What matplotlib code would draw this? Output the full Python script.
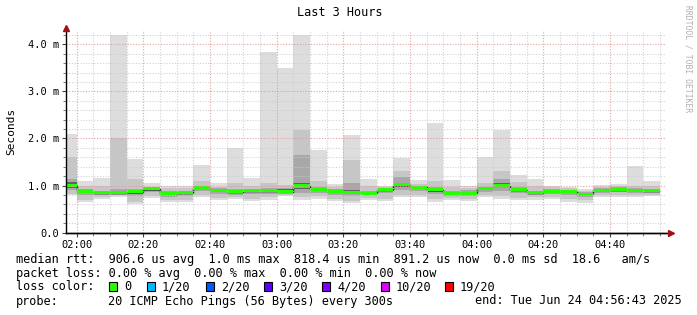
import numpy as np
import pandas as pd
import matplotlib
matplotlib.use("Agg")
import matplotlib.pyplot as plt
import matplotlib.dates as mdates
from matplotlib.patches import Rectangle

# 5-minute slots, values in ms
slots = pd.date_range("2025-06-24 01:55", periods=36, freq="5min")
end_time = pd.Timestamp("2025-06-24 04:56:43")

median = [1.01, 0.885, 0.85, 0.85, 0.87, 0.93, 0.82, 0.85, 0.95, 0.90, 0.87, 0.89,
          0.89, 0.87, 0.99, 0.92, 0.885, 0.86, 0.84, 0.91, 1.02, 0.96, 0.91, 0.84,
          0.84, 0.94, 0.99, 0.915, 0.85, 0.88, 0.88, 0.815, 0.90, 0.915, 0.90, 0.89]
ping_max = [2.10, 1.09, 1.16, 4.20, 1.56, 1.05, 1.00, 1.00, 1.43, 1.05, 1.80, 1.16,
            3.83, 3.50, 4.20, 1.75, 1.04, 2.08, 1.13, 1.00, 1.59, 1.11, 2.33, 1.11,
            1.00, 1.60, 2.17, 1.22, 1.13, 1.00, 0.98, 0.93, 1.02, 1.04, 1.41, 1.09]
ping_min = [0.79, 0.65, 0.72, 0.76, 0.60, 0.74, 0.65, 0.65, 0.76, 0.69, 0.72, 0.67,
            0.70, 0.77, 0.70, 0.72, 0.67, 0.62, 0.69, 0.67, 0.76, 0.75, 0.65, 0.69,
            0.67, 0.76, 0.72, 0.69, 0.70, 0.72, 0.65, 0.63, 0.75, 0.76, 0.76, 0.77]
hi2 = [1.60, 1.00, 1.00, 2.00, 1.15, 0.98, 0.95, 0.95, 1.10, 0.98, 1.05, 1.00,
       1.05, 1.02, 2.18, 1.10, 0.97, 1.54, 1.00, 0.97, 1.32, 1.03, 1.10, 0.98,
       0.95, 1.05, 1.32, 1.08, 1.00, 0.96, 0.94, 0.89, 0.98, 1.00, 1.00, 1.00]
lo2 = [0.83, 0.70, 0.76, 0.79, 0.66, 0.78, 0.70, 0.70, 0.80, 0.74, 0.76, 0.72,
       0.75, 0.80, 0.75, 0.77, 0.72, 0.68, 0.74, 0.72, 0.80, 0.79, 0.71, 0.74,
       0.72, 0.80, 0.77, 0.73, 0.75, 0.76, 0.71, 0.69, 0.79, 0.80, 0.80, 0.80]
hi3 = [1.15, 0.93, 0.89, 0.92, 0.93, 0.96, 0.88, 0.89, 1.00, 0.94, 0.92, 0.93,
       0.95, 0.95, 1.65, 0.97, 0.92, 1.05, 0.89, 0.94, 1.18, 0.99, 0.96, 0.89,
       0.90, 0.97, 1.15, 0.96, 0.89, 0.92, 0.91, 0.86, 0.95, 0.97, 0.94, 0.93]
lo3 = [0.90, 0.80, 0.80, 0.80, 0.78, 0.86, 0.76, 0.78, 0.88, 0.83, 0.80, 0.82,
       0.82, 0.85, 0.85, 0.84, 0.81, 0.78, 0.79, 0.85, 0.90, 0.88, 0.82, 0.78,
       0.78, 0.87, 0.88, 0.84, 0.79, 0.82, 0.80, 0.76, 0.84, 0.86, 0.85, 0.84]
hi4 = [1.08, 0.91, 0.87, 0.88, 0.90, 0.95, 0.86, 0.87, 0.99, 0.92, 0.90, 0.91,
       0.93, 0.92, 1.05, 0.94, 0.90, 0.90, 0.86, 0.93, 1.06, 0.98, 0.93, 0.86,
       0.87, 0.95, 1.05, 0.94, 0.87, 0.90, 0.90, 0.84, 0.93, 0.95, 0.93, 0.91]
lo4 = [0.95, 0.85, 0.83, 0.83, 0.83, 0.89, 0.79, 0.82, 0.92, 0.87, 0.84, 0.86,
       0.86, 0.88, 0.93, 0.88, 0.85, 0.82, 0.82, 0.88, 0.97, 0.93, 0.87, 0.81,
       0.81, 0.91, 0.94, 0.88, 0.82, 0.85, 0.84, 0.79, 0.87, 0.89, 0.87, 0.86]

loss_labels = ["0", "1/20", "2/20", "3/20", "4/20", "10/20", "19/20"]
loss_colors = ["#26ff00", "#00b8ff", "#0059ff", "#5e00ff", "#7e00ff", "#dd00ff", "#ff0000"]

W, H = 697, 315
mono = "DejaVu Sans Mono"
fig = plt.figure(figsize=(W / 100, H / 100), dpi=100)
fig.patch.set_facecolor("white")

x0, x1, ytop, ybot = 65.8, 665.7, 30.0, 232.7
ax = fig.add_axes([x0 / W, 1 - ybot / H, (x1 - x0) / W, (ybot - ytop) / H])

xs = mdates.date2num(slots)
bw = 5 / 1440
med = np.array(median)

# smoke layers, outer to inner
layers = [(ping_min, ping_max, "#dddddd"), (lo2, hi2, "#c6c6c6"),
          (lo3, hi3, "#a8a8a8"), (lo4, hi4, "#626262")]
for lo, hi, col in layers:
    lo, hi = np.array(lo), np.array(hi)
    ax.bar(xs, hi - lo, bottom=lo, width=bw, align="edge", color=col,
           linewidth=0, zorder=1)

# median: dark step line + green loss band
edges = np.append(xs, xs[-1] + bw)
ax.stairs(med, edges, baseline=None, color="#202020", lw=1.0, zorder=3)
sw = 0.034
ax.bar(xs, 2 * sw, bottom=med - sw, width=bw, align="edge",
       color=loss_colors[0], linewidth=0, zorder=4)

t0 = mdates.date2num(end_time - pd.Timedelta(hours=3))
t1 = mdates.date2num(end_time)
ax.set_xlim(t0, t1)
ymax = (ybot - ytop) / 47.1
ax.set_ylim(0, ymax)

# grid
grid_t = pd.date_range("2025-06-24 02:00", "2025-06-24 04:55", freq="5min")
for t in grid_t:
    major = t.minute % 20 == 0
    ax.axvline(mdates.date2num(t), color="#e09a9a" if major else "#cccccc",
               lw=0.8, dashes=(1, 1.5), zorder=5, alpha=0.9)
for v in np.arange(0.2, ymax, 0.2):
    major = abs(v - round(v)) < 1e-6
    ax.axhline(v, color="#e09a9a" if major else "#cccccc", lw=0.8,
               dashes=(1, 1.5), zorder=5, alpha=0.9)

major_t = pd.date_range("2025-06-24 02:00", "2025-06-24 04:40", freq="20min")
ax.set_xticks(mdates.date2num(major_t))
ax.set_xticklabels([t.strftime("%H:%M") for t in major_t], fontfamily=mono, fontsize=7.5)
ax.set_xticks(mdates.date2num(grid_t), minor=True)
ax.set_yticks([0, 1, 2, 3, 4])
ax.set_yticklabels(["0.0", "1.0 m", "2.0 m", "3.0 m", "4.0 m"], fontfamily=mono, fontsize=7.5)
ax.set_yticks(np.arange(0, ymax, 0.2), minor=True)
ax.tick_params(axis="both", which="major", length=3, width=0.8, color="#444444", pad=2)
ax.tick_params(axis="both", which="minor", length=2, width=0.6, color="#666666")

for s in ["top", "right"]:
    ax.spines[s].set_visible(False)
for s in ["left", "bottom"]:
    ax.spines[s].set_color("black")
    ax.spines[s].set_linewidth(1.0)
    ax.spines[s].set_zorder(6)

# axis arrows
ax.plot([t0], [ymax + 0.05], marker="^", color="#a01010", ms=4, clip_on=False, zorder=7)
ax.plot([t0, t1 + 1.3 / 1440], [0, 0], color="black", lw=1.0, clip_on=False, zorder=6)
ax.plot([t1 + 1.6 / 1440], [0], marker=">", color="#a01010", ms=4, clip_on=False, zorder=7)
ax.plot([t0, t0], [ymax, ymax + 0.05], color="black", lw=1.0, clip_on=False, zorder=6)

def px(x, y):
    return x / W, 1 - y / H

fig.text(*px(340, 12), "Last 3 Hours", ha="center", va="center", fontfamily=mono, fontsize=8.6)
fig.text(*px(11, 131), "Seconds", ha="center", va="center", rotation=90,
         fontfamily=mono, fontsize=8)
fig.text(*px(688, 5), "RRDTOOL / TOBI OETIKER", ha="center", va="top", rotation=270,
         fontfamily=mono, fontsize=5.8, color="#b0b0b0")

fs = 8.6
fig.text(*px(16, 259), "median rtt:  906.6 us avg  1.0 ms max  818.4 us min  891.2 us now"
         "  0.0 ms sd  18.6   am/s", va="center", fontfamily=mono, fontsize=fs)
fig.text(*px(16, 273), "packet loss: 0.00 % avg  0.00 % max  0.00 % min  0.00 % now",
         va="center", fontfamily=mono, fontsize=fs)
fig.text(*px(16, 287), "loss color:", va="center", fontfamily=mono, fontsize=fs)
sq_x = [109, 147, 206, 264, 322, 381, 445]
for sx, lab, col in zip(sq_x, loss_labels, loss_colors):
    fig.patches.append(Rectangle(px(sx, 291), 8 / W, 9 / H, transform=fig.transFigure,
                                 facecolor=col, edgecolor="black", lw=0.8))
    fig.text(*px(sx + 15, 287), lab, va="center", fontfamily=mono, fontsize=fs)
fig.text(*px(16, 301), "probe:", va="center", fontfamily=mono, fontsize=fs)
fig.text(*px(108, 301), "20 ICMP Echo Pings (56 Bytes) every 300s", va="center",
         fontfamily=mono, fontsize=fs)
fig.text(*px(682, 301), "end: Tue Jun 24 04:56:43 2025", ha="right", va="center",
         fontfamily=mono, fontsize=fs)

fig.savefig("out.png", dpi=100, facecolor="white")
